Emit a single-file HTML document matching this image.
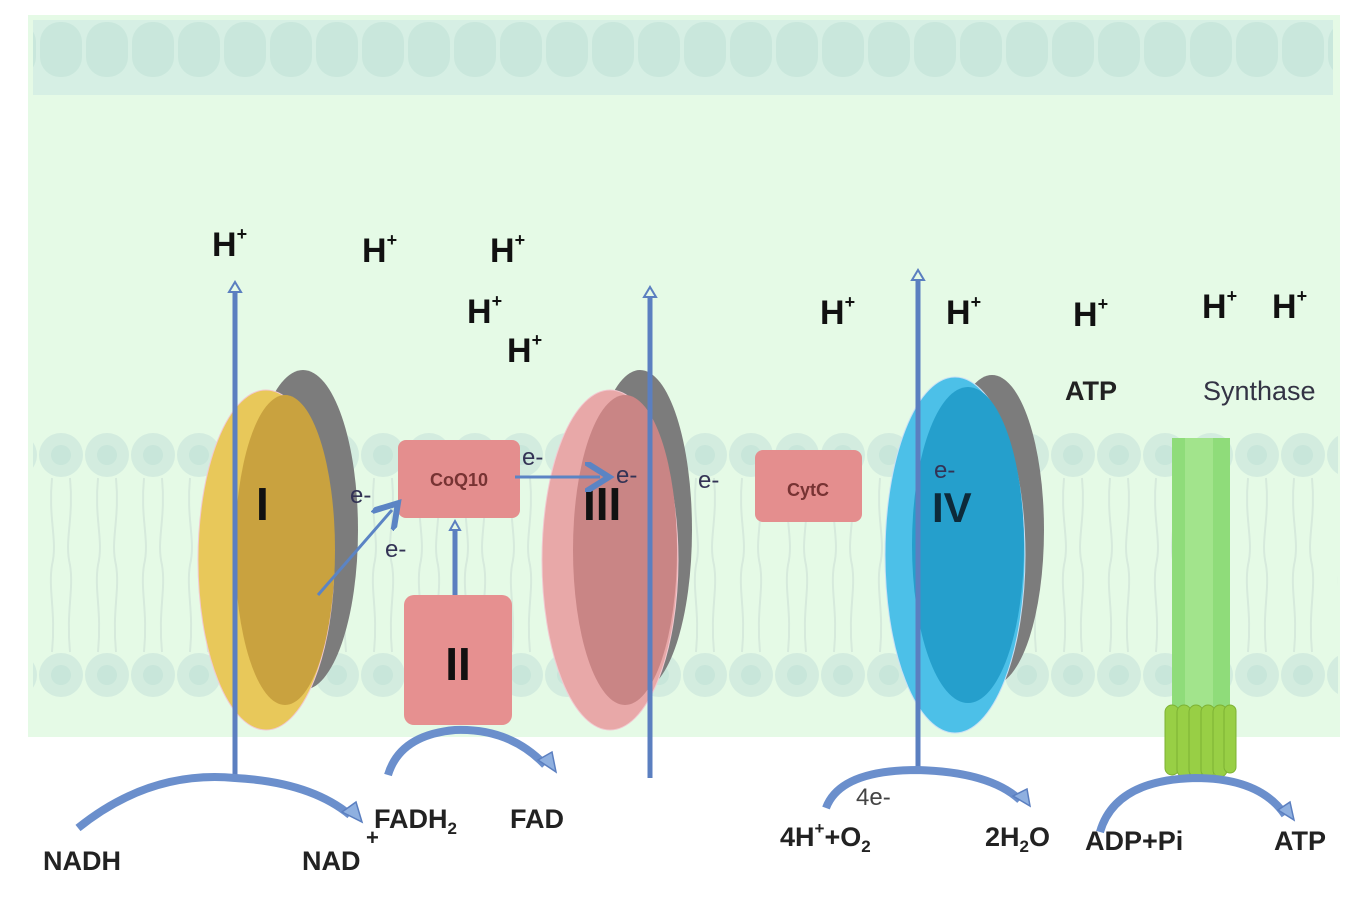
<!DOCTYPE html>
<html><head><meta charset="utf-8"><style>
html,body{margin:0;padding:0;background:#fff;}
svg{display:block;font-family:"Liberation Sans",sans-serif;}
.h{font-weight:bold;font-size:34px;fill:#111;}
.s{font-weight:bold;font-size:18px;}
.lab{font-weight:bold;fill:#111;}
.e{font-size:24px;fill:#335;}
</style></head><body>
<svg width="1365" height="915" viewBox="0 0 1365 915" xmlns="http://www.w3.org/2000/svg">
<defs>
<pattern id="heads" x="38" y="0" width="46" height="915" patternUnits="userSpaceOnUse">
<circle cx="23" cy="455" r="22" fill="#d3ecdf"/>
<circle cx="23" cy="455" r="10" fill="#c8e6da"/>
<circle cx="23" cy="675" r="22" fill="#d3ecdf"/>
<circle cx="23" cy="675" r="10" fill="#c8e6da"/>
<path d="M14 478 C10 520 20 540 14 565 C10 590 18 610 14 652 M32 478 C36 520 26 540 32 565 C36 590 28 610 32 652" stroke="#d6eadc" stroke-width="2" fill="none"/>
</pattern>
<pattern id="top" x="38" y="0" width="46" height="100" patternUnits="userSpaceOnUse">
<rect x="2" y="22" width="42" height="55" rx="20" fill="#c9e7dc"/>
</pattern>
<marker id="ah" markerWidth="10" markerHeight="10" refX="5" refY="5" orient="auto"><path d="M0 0 L8 5 L0 10" fill="none" stroke="#5b84c4" stroke-width="2"/></marker>
</defs>
<rect x="28" y="15" width="1312" height="722" fill="#e5fae6"/>
<rect x="33" y="20" width="1300" height="75" fill="#d6efe4"/>
<rect x="33" y="20" width="1300" height="75" fill="url(#top)"/>
<rect x="33" y="425" width="1305" height="280" fill="url(#heads)"/>

<!-- Complex I -->
<ellipse cx="303" cy="530" rx="55" ry="160" fill="#7c7c7c"/>
<ellipse cx="266" cy="560" rx="68" ry="170" fill="#e8c85a" stroke="#f2c8d0"/>
<ellipse cx="285" cy="550" rx="50" ry="155" fill="#c9a23f"/>
<text x="256" y="520" class="lab" font-size="46">I</text>
<!-- Complex III -->
<ellipse cx="640" cy="530" rx="52" ry="160" fill="#7c7c7c"/>
<ellipse cx="610" cy="560" rx="68" ry="170" fill="#e8a8a8" stroke="#f2c8d0"/>
<ellipse cx="625" cy="550" rx="52" ry="155" fill="#c98585"/>
<text x="583" y="520" class="lab" font-size="46">III</text>
<!-- Complex IV -->
<ellipse cx="992" cy="530" rx="52" ry="155" fill="#7c7c7c"/>
<ellipse cx="955" cy="555" rx="70" ry="178" fill="#4cc0e8" stroke="#c8e0f5"/>
<ellipse cx="968" cy="545" rx="56" ry="158" fill="#259fcc"/>
<text x="932" y="522" font-size="42" font-weight="bold" fill="#0d2a3a">IV</text>
<text x="934" y="478" class="e" fill="#124">e-</text>

<!-- boxes -->
<rect x="398" y="440" width="122" height="78" rx="8" fill="#e48e8e"/>
<text x="459" y="486" text-anchor="middle" font-size="18" font-weight="bold" fill="#733">CoQ10</text>
<rect x="404" y="595" width="108" height="130" rx="10" fill="#e69090"/>
<text x="458" y="680" text-anchor="middle" class="lab" font-size="46">II</text>
<rect x="755" y="450" width="107" height="72" rx="8" fill="#e48e8e"/>
<text x="808" y="496" text-anchor="middle" font-size="18" font-weight="bold" fill="#733">CytC</text>
<!-- ATP synthase -->
<rect x="1172" y="438" width="58" height="270" fill="#8fdc7a"/>
<rect x="1185" y="438" width="28" height="270" fill="#a2e48c"/>
<g fill="#98cf45" stroke="#7db234" stroke-width="1">
<rect x="1165" y="705" width="14" height="70" rx="7"/><rect x="1177" y="705" width="14" height="72" rx="7"/><rect x="1189" y="705" width="14" height="72" rx="7"/><rect x="1201" y="705" width="14" height="72" rx="7"/><rect x="1213" y="705" width="14" height="72" rx="7"/><rect x="1224" y="705" width="12" height="68" rx="6"/>
</g>

<!-- vertical arrows -->
<g stroke="#5b7fc0" stroke-width="5" fill="none">
<line x1="235" y1="780" x2="235" y2="290"/>
<line x1="650" y1="778" x2="650" y2="295"/>
<line x1="918" y1="772" x2="918" y2="278"/>
<line x1="455" y1="595" x2="455" y2="528"/>
</g>
<g fill="#e5fae6" stroke="#5b7fc0" stroke-width="2">
<path d="M229 292 L235 282 L241 292Z"/><path d="M644 297 L650 287 L656 297Z"/><path d="M912 280 L918 270 L924 280Z"/><path d="M450 530 L455 521 L460 530Z"/>
</g>
<!-- electron arrows -->
<g stroke="#5b84c4" stroke-width="3" fill="none">
<path d="M318 595 L392 510" marker-end="url(#ah)"/>
<path d="M515 477 L600 477" marker-end="url(#ah)"/>
</g>
<!-- curved arrows -->
<g stroke="#6b8fcc" stroke-width="8" fill="none">
<path d="M78 828 Q150 770 235 778 Q310 782 350 815"/>
<path d="M388 775 Q400 735 455 730 Q510 728 545 765"/>
<path d="M826 808 Q840 770 918 770 Q990 772 1020 800"/>
<path d="M1100 832 Q1115 780 1195 778 Q1260 778 1285 815"/>
</g>
<g fill="#8fb0e0" stroke="#5b7fc0" stroke-width="1.5">
<path d="M342 812 L362 822 L356 802Z"/><path d="M538 760 L556 772 L552 752Z"/><path d="M1013 796 L1030 806 L1027 789Z"/><path d="M1278 810 L1294 820 L1290 802Z"/>
</g>

<!-- H+ labels -->
<g class="h">
<text x="212" y="256">H<tspan class="s" dy="-16">+</tspan></text>
<text x="362" y="262">H<tspan class="s" dy="-16">+</tspan></text>
<text x="490" y="262">H<tspan class="s" dy="-16">+</tspan></text>
<text x="467" y="323">H<tspan class="s" dy="-16">+</tspan></text>
<text x="507" y="362">H<tspan class="s" dy="-16">+</tspan></text>
<text x="820" y="324">H<tspan class="s" dy="-16">+</tspan></text>
<text x="946" y="324">H<tspan class="s" dy="-16">+</tspan></text>
<text x="1073" y="326">H<tspan class="s" dy="-16">+</tspan></text>
<text x="1202" y="318">H<tspan class="s" dy="-16">+</tspan></text>
<text x="1272" y="318">H<tspan class="s" dy="-16">+</tspan></text>
</g>
<text x="1065" y="400" font-weight="bold" font-size="27" fill="#222">ATP</text>
<text x="1203" y="400" font-size="27" fill="#334">Synthase</text>

<g class="e">
<text x="350" y="503">e-</text>
<text x="385" y="557">e-</text>
<text x="522" y="465">e-</text>
<text x="616" y="483">e-</text>
<text x="698" y="488">e-</text>
<text x="856" y="805" fill="#444">4e-</text>
</g>

<g font-weight="bold" font-size="27" fill="#222">
<text x="43" y="870">NADH</text>
<text x="302" y="870">NAD</text>
<text x="366" y="845" font-size="22">+</text>
<text x="374" y="828">FADH<tspan font-size="17" dy="6">2</tspan></text>
<text x="510" y="828">FAD</text>
<text x="780" y="846">4H<tspan font-size="17" dy="-12">+</tspan><tspan dy="12">+O</tspan><tspan font-size="17" dy="6">2</tspan></text>
<text x="985" y="846">2H<tspan font-size="17" dy="6">2</tspan><tspan dy="-6">O</tspan></text>
<text x="1085" y="850">ADP+Pi</text>
<text x="1274" y="850">ATP</text>
</g>
</svg>
</body></html>
